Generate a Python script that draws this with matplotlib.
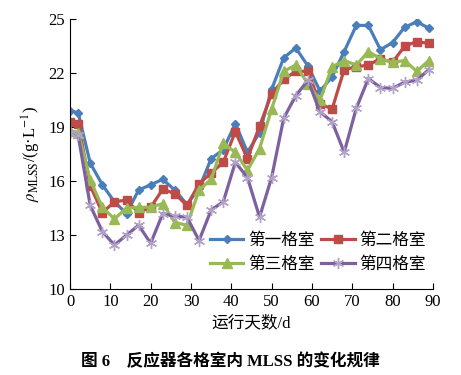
import matplotlib.pyplot as plt

plt.rcParams['font.family'] = ['Liberation Serif', 'Noto Sans CJK SC']
plt.rcParams['mathtext.fontset'] = 'stix'

days = [0, 2, 5, 8, 11, 14, 17, 20, 23, 26, 29, 32, 35, 38, 41, 44,
        47, 50, 53, 56, 59, 62, 65, 68, 71, 74, 77, 80, 83, 86, 89]
room1 = [19.9, 19.8, 17.0, 15.8, 14.85, 14.2, 15.5, 15.8, 16.1, 15.5, 14.7, 15.6,
         17.25, 17.75, 19.2, 17.6, 18.7, 21.1, 22.85, 23.4, 22.4, 21.0, 21.8, 23.2,
         24.65, 24.65, 23.3, 23.7, 24.55, 24.85, 24.5]
room2 = [19.3, 19.2, 15.75, 14.25, 14.85, 14.95, 14.25, 14.55, 15.55, 15.3, 14.65, 15.85,
         16.45, 17.05, 18.75, 17.25, 19.05, 20.85, 21.65, 22.1, 22.1, 20.3, 20.0, 22.2,
         22.35, 22.45, 22.8, 22.6, 23.5, 23.75, 23.65]
room3 = [18.8, 18.7, 16.05, 14.55, 13.9, 14.5, 14.55, 14.55, 14.75, 13.7, 13.55, 15.5,
         16.1, 18.1, 17.6, 16.6, 17.8, 20.0, 22.1, 22.45, 21.4, 20.5, 22.35, 22.7,
         22.45, 23.2, 22.8, 22.6, 22.7, 22.1, 22.7]
room4 = [18.65, 18.55, 14.65, 13.2, 12.45, 13.0, 13.55, 12.55, 14.2, 14.05, 14.0, 12.7,
         14.4, 14.85, 17.05, 16.2, 14.0, 16.2, 19.5, 20.75, 21.6, 19.85, 19.3, 17.6,
         20.05, 21.7, 21.2, 21.15, 21.5, 21.6, 22.2]
labels = ['第一格室', '第二格室', '第三格室', '第四格室']

fig = plt.figure(figsize=(4.61, 3.75), dpi=100)
ax = fig.add_axes([0.152, 0.229, 0.787, 0.72])

l1, = ax.plot(days, room1, color='#4A7EBB', lw=2.3, marker='D', ms=4.5, label=labels[0])
l2, = ax.plot(days, room2, color='#BE4B48', lw=2.3, marker='s', ms=6, label=labels[1])
l3, = ax.plot(days, room3, color='#98B954', lw=2.3, marker='^', ms=6.5, label=labels[2])
l4, = ax.plot(days, room4, color='#7D60A0', lw=2.3, marker=(6, 2, 0), ms=8,
              mec='#B3A2C7', mew=1, label=labels[3])

ax.set_xlim(0, 90)
ax.set_ylim(10, 25)
ax.set_xticks(range(0, 91, 10))
ax.set_yticks(range(10, 26, 3))
ax.tick_params(direction='in', length=4, labelsize=12, width=0.8)
ax.spines['top'].set_visible(False)
ax.spines['right'].set_visible(False)

ax.set_xlabel('运行天数/d', fontsize=12, labelpad=4)
ax.set_ylabel(r'$\rho_{\rm MLSS}$/(g·L$^{-1}$)', fontsize=12, labelpad=4)

# order so that rows read 一 二 / 三 四
ax.legend([l1, l3, l2, l4], [labels[0], labels[2], labels[1], labels[3]],
          ncol=2, frameon=False, fontsize=12, loc='lower right',
          bbox_to_anchor=(1.0, 0.035), borderaxespad=0, handlelength=2.0,
          handletextpad=0.3, columnspacing=0.4, labelspacing=0.5)

fig.text(0.5, 0.035, '图 6    反应器各格室内 MLSS 的变化规律', ha='center',
         va='center', fontsize=12, fontweight='bold')

fig.savefig('out.png', dpi=100)
